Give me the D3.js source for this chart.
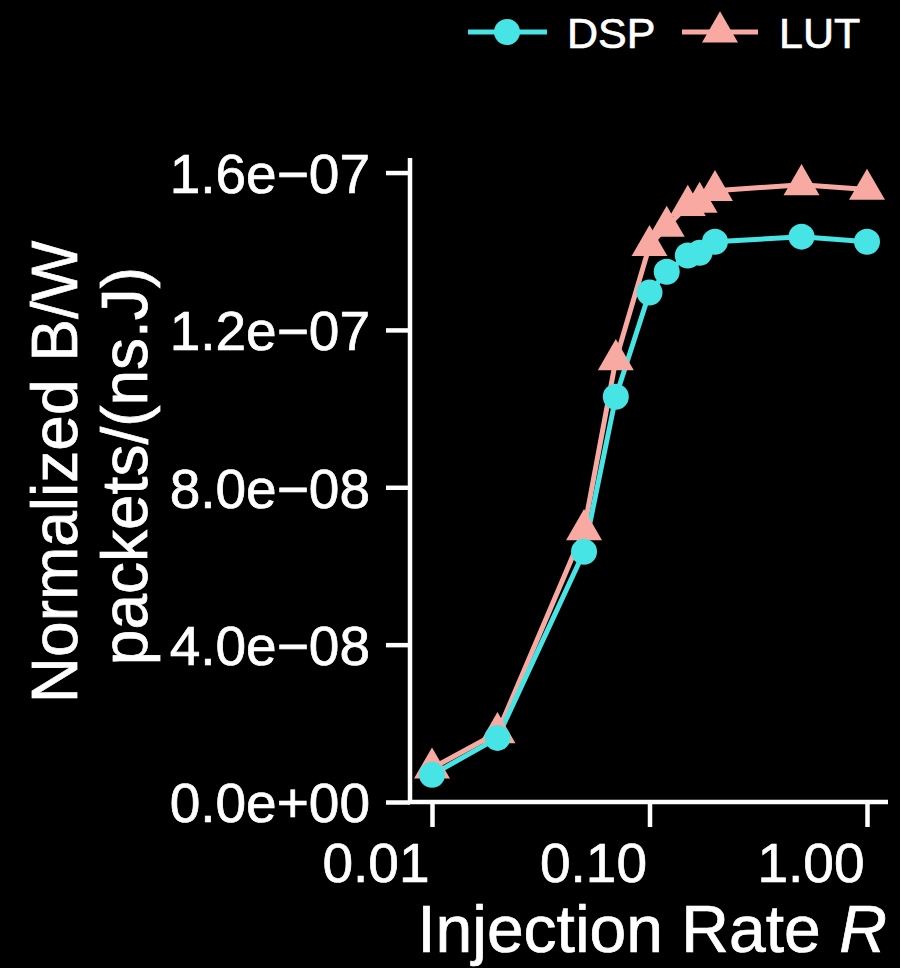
<!DOCTYPE html>
<html lang="en">
<head>
  <meta charset="UTF-8">
  <title>Normalized B/W vs Injection Rate</title>
  <script src="https://d3js.org/d3.v7.min.js"></script>
  <style>
    body { margin: 0; background: #000; }
    text { font-family: "Liberation Sans", Arial, sans-serif; fill: #fff; stroke: #fff; stroke-width: 0.7px; }
  </style>
</head>
<body>
  <script>
    // data
    const rates = [0.01, 0.02, 0.05, 0.07, 0.10, 0.12, 0.15, 0.17, 0.20, 0.50, 1.00];
    const dspValues = [0.69e-8, 1.63e-8, 6.36e-8, 10.3e-8, 12.95e-8, 13.48e-8, 13.89e-8, 13.96e-8, 14.24e-8, 14.37e-8, 14.24e-8];
    const lutValues = [0.86e-8, 1.76e-8, 6.92e-8, 11.24e-8, 14.14e-8, 14.63e-8, 15.16e-8, 15.24e-8, 15.54e-8, 15.69e-8, 15.57e-8];
    const xTicks = [0.01, 0.1, 1];
    const xTickLabels = ["0.01", "0.10", "1.00"];
    const yTicks = [0, 4e-8, 8e-8, 1.2e-7, 1.6e-7];
    const yTickLabels = ["0.0e+00", "4.0e\u221208", "8.0e\u221208", "1.2e\u221207", "1.6e\u221207"];
    const seriesNames = ["DSP", "LUT"];
    const seriesColors = ["#46e4e4", "#f8aaa2"];

    const width = 900, height = 968;

    var svg = d3.select("body").append("svg")
      .attr("width", width)
      .attr("height", height);

    svg.append("rect").attr("width", width).attr("height", height).attr("fill", "#000");

    const xScale = d3.scaleLog()
      .domain([0.01, 1])
      .range([432, 867]);

    const yScale = d3.scaleLinear()
      .domain([0, 1.637e-7])
      .range([802, 158]);

    const axisColor = "#fff";
    const strokeW = 4.5;

    // y axis
    const yAxis = svg.append("g")
      .attr("transform", "translate(410,0)")
      .call(d3.axisLeft(yScale)
        .tickValues(yTicks)
        .tickSize(24)
        .tickPadding(16)
        .tickFormat((d, i) => yTickLabels[i]));
    yAxis.select(".domain").remove();
    yAxis.selectAll(".tick line").attr("stroke", axisColor).attr("stroke-width", strokeW);
    yAxis.selectAll(".tick text")
      .attr("fill", "#fff")
      .style("font-size", "55px")
      .attr("dy", "0.36em");
    yAxis.append("line")
      .attr("x1", 0).attr("x2", 0)
      .attr("y1", 158).attr("y2", 804)
      .attr("stroke", axisColor).attr("stroke-width", strokeW);

    // x axis, labels end just left of their tick
    const xAxis = svg.append("g")
      .attr("transform", "translate(0,802)")
      .call(d3.axisBottom(xScale)
        .tickValues(xTicks)
        .tickSize(25)
        .tickPadding(14)
        .tickFormat((d, i) => xTickLabels[i]));
    xAxis.select(".domain").remove();
    xAxis.selectAll(".tick line").attr("stroke", axisColor).attr("stroke-width", strokeW);
    xAxis.selectAll(".tick text")
      .attr("fill", "#fff")
      .attr("text-anchor", "end")
      .attr("x", -3)
      .style("font-size", "55px")
      .attr("dy", "0.75em");
    xAxis.append("line")
      .attr("x1", 408).attr("x2", 888)
      .attr("y1", 0).attr("y2", 0)
      .attr("stroke", axisColor).attr("stroke-width", strokeW);

    const series = [
      { name: "LUT", values: lutValues, color: seriesColors[1], shape: "triangle" },
      { name: "DSP", values: dspValues, color: seriesColors[0], shape: "circle" }
    ];

    const line = d3.line()
      .x(d => xScale(d[0]))
      .y(d => yScale(d[1]));

    const triangle = d3.symbol().type(d3.symbolTriangle).size(560);

    // lines first, points on top
    series.forEach(function (s) {
      svg.append("path")
        .datum(rates.map((r, i) => [r, s.values[i]]))
        .attr("fill", "none")
        .attr("stroke", s.color)
        .attr("stroke-width", 5)
        .attr("d", line);
    });

    series.forEach(function (s) {
      const pts = rates.map((r, i) => [r, s.values[i]]);
      if (s.shape === "circle") {
        svg.append("g").selectAll("circle")
          .data(pts)
          .enter().append("circle")
          .attr("cx", d => xScale(d[0]))
          .attr("cy", d => yScale(d[1]))
          .attr("r", 13)
          .attr("fill", s.color);
      } else {
        svg.append("g").selectAll("path")
          .data(pts)
          .enter().append("path")
          .attr("d", triangle)
          .attr("transform", d => "translate(" + xScale(d[0]) + "," + yScale(d[1]) + ")")
          .attr("fill", s.color);
      }
    });

    // legend
    var legend = svg.append("g");
    legend.append("line")
      .attr("x1", 468).attr("x2", 547).attr("y1", 32).attr("y2", 32)
      .attr("stroke", seriesColors[0]).attr("stroke-width", 5);
    legend.append("circle")
      .attr("cx", 507).attr("cy", 32).attr("r", 13)
      .attr("fill", seriesColors[0]);
    legend.append("text")
      .attr("x", 567).attr("y", 48)
      .style("font-size", "43px")
      .text(seriesNames[0]);

    legend.append("line")
      .attr("x1", 682).attr("x2", 758).attr("y1", 32).attr("y2", 32)
      .attr("stroke", seriesColors[1]).attr("stroke-width", 5);
    legend.append("path")
      .attr("d", triangle)
      .attr("transform", "translate(720,32)")
      .attr("fill", seriesColors[1]);
    legend.append("text")
      .attr("x", 779).attr("y", 48)
      .style("font-size", "43px")
      .text(seriesNames[1]);

    // x label
    const xLabel = svg.append("text")
      .attr("x", 652)
      .attr("y", 952)
      .attr("text-anchor", "middle")
      .style("font-size", "66px");
    xLabel.append("tspan").text("Injection Rate ");
    xLabel.append("tspan").style("font-style", "italic").text("R");

    // y label (two lines)
    svg.append("text")
      .attr("transform", "translate(77,472)rotate(-90)")
      .attr("text-anchor", "middle")
      .style("font-size", "64px")
      .text("Normalized B/W");
    svg.append("text")
      .attr("transform", "translate(147,466)rotate(-90)")
      .attr("text-anchor", "middle")
      .style("font-size", "64px")
      .text("packets/(ns.J)");
  </script>
</body>
</html>
